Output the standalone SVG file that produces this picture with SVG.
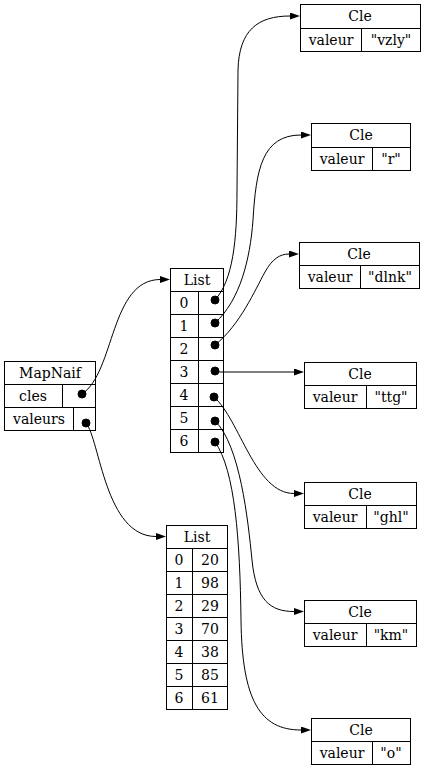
<svg xmlns="http://www.w3.org/2000/svg" width="427" height="769" viewBox="0 0 427 769">
<defs>
<style>
.box{fill:none;stroke:#000;stroke-width:1}
text{font-family:"DejaVu Serif","Liberation Serif",serif;font-size:14px;fill:#000;text-anchor:middle}
.edge{fill:none;stroke:#000;stroke-width:1}
.dot{fill:#000;stroke:#000}
</style>
<marker id="arr" viewBox="0 0 10 7" refX="0" refY="3.5" markerWidth="10" markerHeight="7" markerUnits="userSpaceOnUse" orient="auto">
<path d="M0,0 L10,3.5 L0,7 z" fill="#000"/>
</marker>
</defs>
<rect width="427" height="769" fill="#fff"/>

<g id="mapnaif">
<rect class="box" x="4.5" y="361.5" width="91" height="69"/>
<path class="box" d="M4.5,384.5 H95.5 M4.5,407.5 H95.5 M62.5,384.5 V407.5 M73.5,407.5 V430.5"/>
<text x="50" y="378">MapNaif</text>
<text x="33" y="401">cles</text>
<text x="39" y="424">valeurs</text>
</g>

<g id="list1">
<rect class="box" x="170.5" y="268.5" width="53" height="184"/>
<path class="box" d="M170.5,291.5 H223.5 M170.5,314.5 H223.5 M170.5,337.5 H223.5 M170.5,360.5 H223.5 M170.5,383.5 H223.5 M170.5,406.5 H223.5 M170.5,429.5 H223.5 M198.5,291.5 V452.5"/>
<text x="197" y="285">List</text>
<text x="184" y="308">0</text>
<text x="184" y="331">1</text>
<text x="184" y="354">2</text>
<text x="184" y="377">3</text>
<text x="184" y="400">4</text>
<text x="184" y="423">5</text>
<text x="184" y="446">6</text>
</g>

<g id="list2">
<rect class="box" x="166.5" y="525.5" width="61" height="184"/>
<path class="box" d="M166.5,548.5 H227.5 M166.5,571.5 H227.5 M166.5,594.5 H227.5 M166.5,617.5 H227.5 M166.5,640.5 H227.5 M166.5,663.5 H227.5 M166.5,686.5 H227.5 M192.5,548.5 V709.5"/>
<text x="197" y="542">List</text>
<text x="179" y="565">0</text><text x="210" y="565">20</text>
<text x="179" y="588">1</text><text x="210" y="588">98</text>
<text x="179" y="611">2</text><text x="210" y="611">29</text>
<text x="179" y="634">3</text><text x="210" y="634">70</text>
<text x="179" y="657">4</text><text x="210" y="657">38</text>
<text x="179" y="680">5</text><text x="210" y="680">85</text>
<text x="179" y="703">6</text><text x="210" y="703">61</text>
</g>

<g id="cle1">
<rect class="box" x="300.5" y="4.5" width="120" height="47"/>
<path class="box" d="M300.5,28.5 H420.5 M361.5,28.5 V51.5"/>
<text x="360" y="21">Cle</text>
<text x="331" y="45">valeur</text>
<text x="391" y="45">"vzly"</text>
</g>

<g id="cle2">
<rect class="box" x="311.5" y="123.5" width="99" height="47"/>
<path class="box" d="M311.5,147.5 H410.5 M372.5,147.5 V170.5"/>
<text x="361" y="140">Cle</text>
<text x="342" y="164">valeur</text>
<text x="391" y="164">"r"</text>
</g>

<g id="cle3">
<rect class="box" x="299.5" y="242.5" width="120" height="46"/>
<path class="box" d="M299.5,265.5 H419.5 M360.5,265.5 V288.5"/>
<text x="359" y="259">Cle</text>
<text x="330" y="282">valeur</text>
<text x="390" y="282">"dlnk"</text>
</g>

<g id="cle4">
<rect class="box" x="304.5" y="362.5" width="112" height="46"/>
<path class="box" d="M304.5,385.5 H416.5 M366.5,385.5 V408.5"/>
<text x="360" y="379">Cle</text>
<text x="335" y="402">valeur</text>
<text x="391" y="402">"ttg"</text>
</g>

<g id="cle5">
<rect class="box" x="304.5" y="482.5" width="112" height="46"/>
<path class="box" d="M304.5,505.5 H416.5 M366.5,505.5 V528.5"/>
<text x="360" y="499">Cle</text>
<text x="335" y="522">valeur</text>
<text x="391" y="522">"ghl"</text>
</g>

<g id="cle6">
<rect class="box" x="304.5" y="600.5" width="112" height="46"/>
<path class="box" d="M304.5,623.5 H416.5 M366.5,623.5 V646.5"/>
<text x="360" y="617">Cle</text>
<text x="335" y="640">valeur</text>
<text x="391" y="640">"km"</text>
</g>

<g id="cle7">
<rect class="box" x="311.5" y="718.5" width="99" height="46"/>
<path class="box" d="M311.5,741.5 H410.5 M372.5,741.5 V764.5"/>
<text x="361" y="735">Cle</text>
<text x="342" y="758">valeur</text>
<text x="391" y="758">"o"</text>
</g>

<g id="connectors">
<path class="edge" marker-end="url(#arr)" d="M82,394 C115,372 110,280 160,279.5"/>
<path class="edge" marker-end="url(#arr)" d="M86,423 C100,440 105,536.5 156,536.5"/>
<path class="edge" marker-end="url(#arr)" d="M215,300 C233,280 237,240 237,190 L238,70 C239,30 258,16 290,16"/>
<path class="edge" marker-end="url(#arr)" d="M215,323 C240,300 250,260 253,220 C256,170 262,135 301,135"/>
<path class="edge" marker-end="url(#arr)" d="M215,345 C240,325 255,290 265,272 C272,259 280,254 289,254"/>
<path class="edge" marker-end="url(#arr)" d="M215,372 L294,372"/>
<path class="edge" marker-end="url(#arr)" d="M214,397 C240,420 255,493.5 294,493.5"/>
<path class="edge" marker-end="url(#arr)" d="M215,421 C240,445 248,520 252,560 C256,600 270,611.5 294,611.5"/>
<path class="edge" marker-end="url(#arr)" d="M215,442 C235,470 240,540 241,620 C242,700 260,730 301,730"/>
<circle class="dot" cx="82" cy="394" r="4"/>
<circle class="dot" cx="86" cy="423" r="4"/>
<circle class="dot" cx="215" cy="300" r="4"/>
<circle class="dot" cx="215" cy="323" r="4"/>
<circle class="dot" cx="215" cy="345" r="4"/>
<circle class="dot" cx="215" cy="371" r="4"/>
<circle class="dot" cx="214" cy="397" r="4"/>
<circle class="dot" cx="215" cy="421" r="4"/>
<circle class="dot" cx="215" cy="442" r="4"/>
</g>
</svg>
